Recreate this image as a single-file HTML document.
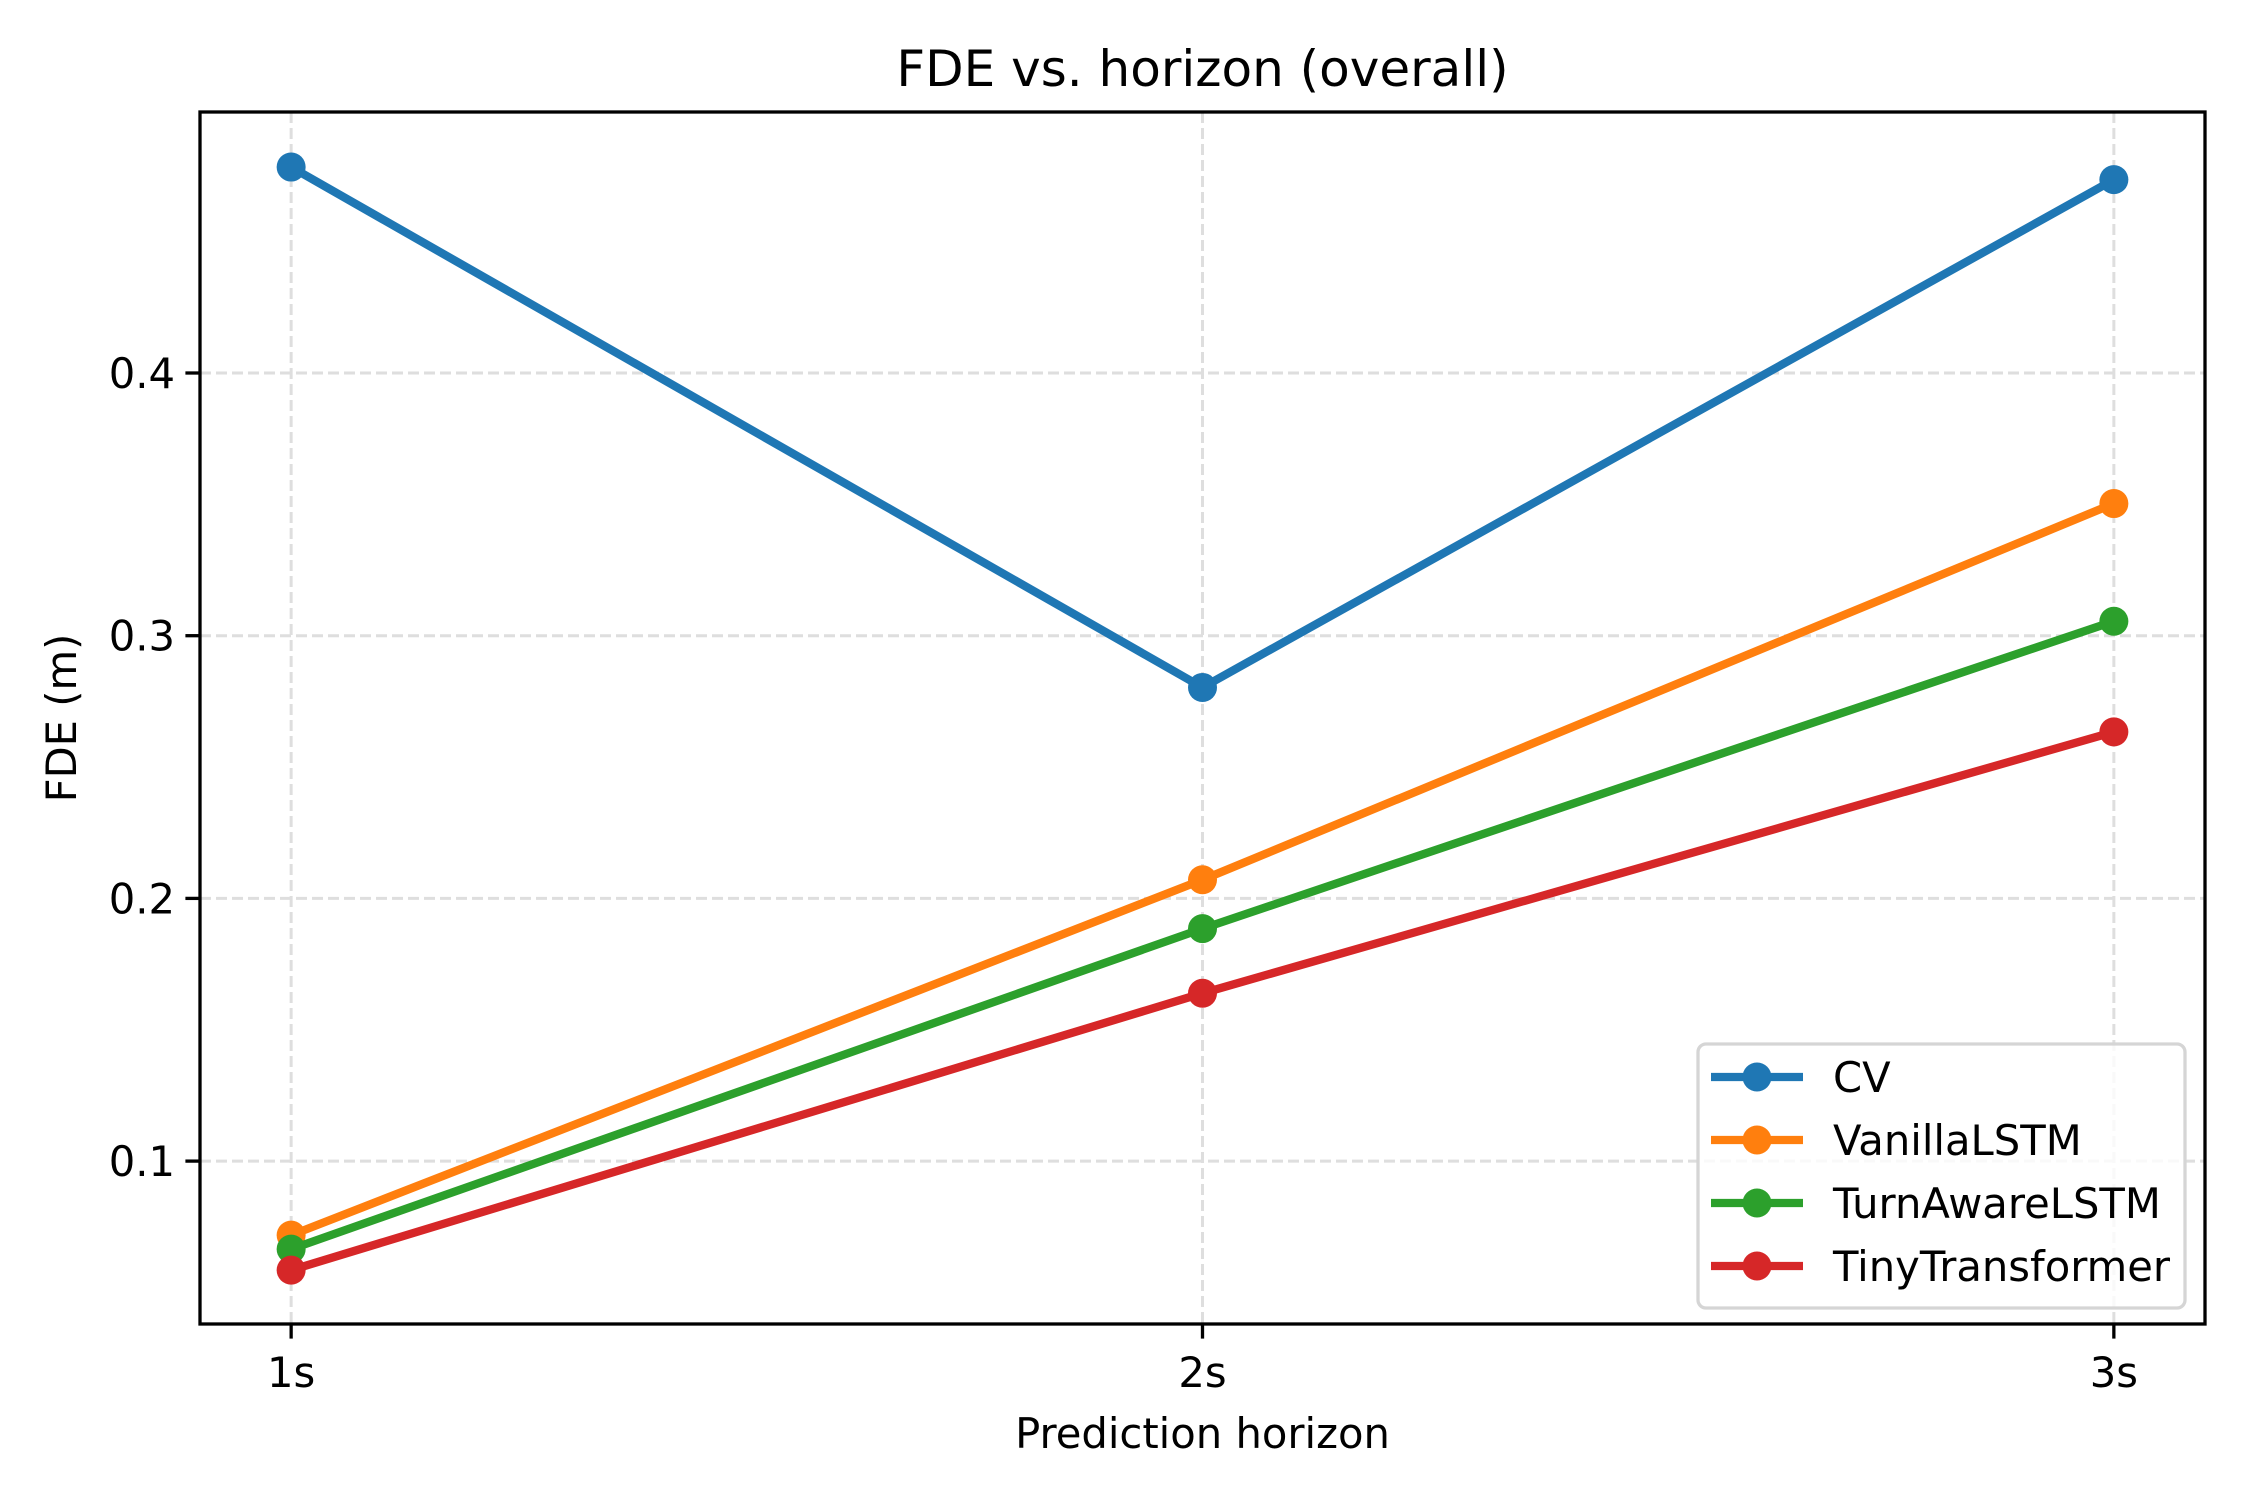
<!DOCTYPE html>
<html><head><meta charset="utf-8"><style>
html,body{margin:0;padding:0;background:#fff;}
svg{display:block;font-family:"DejaVu Sans","Liberation Sans",sans-serif;}
</style></head><body>
<svg id="chart" width="2250" height="1500" viewBox="0 0 2250 1500" xmlns="http://www.w3.org/2000/svg">
<rect width="2250" height="1500" fill="#fff"/>
<g id="grid"></g>
<g id="series"></g>
<rect x="200" y="112" width="2005" height="1212" fill="none" stroke="#000" stroke-width="3.3"/>
<g id="ticks"></g>
<text x="1202.5" y="86" font-size="50" text-anchor="middle">FDE vs. horizon (overall)</text>
<text x="1202.5" y="1448" font-size="41.7" text-anchor="middle">Prediction horizon</text>
<text transform="translate(76,718) rotate(-90)" font-size="41.7" text-anchor="middle">FDE (m)</text>
<g id="legend">
<rect x="1698" y="1044" width="487" height="264" rx="8" fill="#fff" fill-opacity="0.8" stroke="#d5d5d5" stroke-width="3.3"/>
</g>
</svg>
<script>
const categories = ["1s","2s","3s"];
const seriesNames = ["CV","VanillaLSTM","TurnAwareLSTM","TinyTransformer"];
const cvValues = [0.4784, 0.2803, 0.4736];
const vanillaValues = [0.0718, 0.2071, 0.3503];
const turnValues = [0.0665, 0.1885, 0.3055];
const tinyValues = [0.0585, 0.1639, 0.2634];
const yTicks = [0.1, 0.2, 0.3, 0.4];
const yTickLabels = ["0.1","0.2","0.3","0.4"];
const colors = ["#1f77b4","#ff7f0e","#2ca02c","#d62728"];
const allSeries = [cvValues, vanillaValues, turnValues, tinyValues];

const NS = "http://www.w3.org/2000/svg";
const L=200, R=2205, T=112, B=1324;
const xUnit=(R-L)/2.2;
function xScale(i){ return L + (i+0.1)*xUnit; }
function yScale(v){ return 373 + (0.4 - v)/0.1*262.7; }
function mk(tag, attrs, parent){ const e=document.createElementNS(NS,tag); for(const k in attrs) e.setAttribute(k, attrs[k]); parent.appendChild(e); return e; }

const grid=document.getElementById('grid'), ticks=document.getElementById('ticks'), ser=document.getElementById('series'), leg=document.getElementById('legend');
categories.forEach((c,i)=>{
  const x=xScale(i);
  const g=mk('line',{x1:x,x2:x,y1:T,y2:B,stroke:'#dedede','stroke-width':3,'stroke-dasharray':'11,5'},grid);
  
  
  const t=mk('line',{x1:x,x2:x,y1:B,y2:B+14.6,stroke:'#000','stroke-width':3.3},ticks);
  
  
  const tx=mk('text',{x:x,y:1387,'font-size':41.7,'text-anchor':'middle'},ticks);
  tx.textContent=c;
  
  
});
yTicks.forEach((v,i)=>{
  const y=yScale(v);
  const g=mk('line',{x1:L,x2:R,y1:y,y2:y,stroke:'#dedede','stroke-width':3,'stroke-dasharray':'11,5'},grid);
  
  
  const t=mk('line',{x1:L-14.6,x2:L,y1:y,y2:y,stroke:'#000','stroke-width':3.3},ticks);
  
  
  const tx=mk('text',{x:L-25,y:y+15,'font-size':41.7,'text-anchor':'end'},ticks);
  tx.textContent=yTickLabels[i];
  
  
});
allSeries.forEach((vals,s)=>{
  const pts=vals.map((v,i)=>xScale(i)+','+yScale(v)).join(' ');
  const pl=mk('polyline',{points:pts,fill:'none',stroke:colors[s],'stroke-width':8.3,'stroke-linejoin':'round','stroke-linecap':'square'},ser);
  
  
  vals.forEach((v,i)=>{
    const c=mk('circle',{cx:xScale(i),cy:yScale(v),r:14.5,fill:colors[s]},ser);
    
    
  });
  const ly=1077+s*63;
  const ll=mk('line',{x1:1711,x2:1803,y1:ly,y2:ly,stroke:colors[s],'stroke-width':8.3},leg);
  
  
  const lc=mk('circle',{cx:1757,cy:ly,r:14.5,fill:colors[s]},leg);
  
  
  const lt=mk('text',{x:1833,y:ly+15,'font-size':41.7},leg);
  lt.textContent=seriesNames[s];
  
  
});
</script>
</body></html>
